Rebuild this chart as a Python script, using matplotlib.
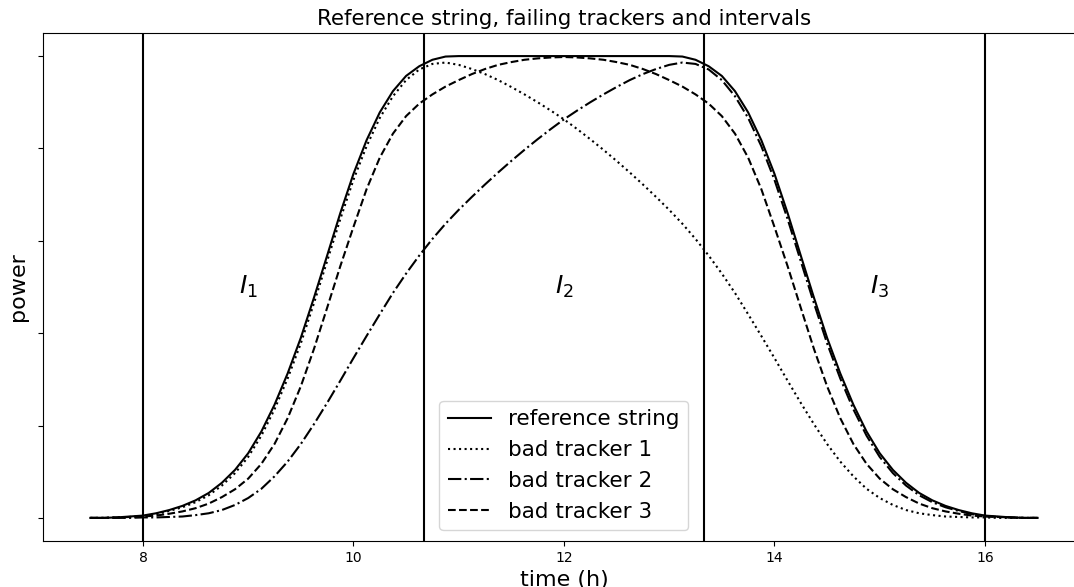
import numpy as np
import matplotlib
matplotlib.use("Agg")
import matplotlib.pyplot as plt

# time grid (h), every eighth of an hour
hours = np.linspace(7.5, 16.5, 73)

# power of the reference string
refPower = [0.000, 0.000, 0.001, 0.003, 0.005, 0.010, 0.017, 0.026,
            0.038, 0.054, 0.076, 0.104, 0.140, 0.187, 0.245, 0.313,
            0.390, 0.477, 0.568, 0.660, 0.745, 0.818, 0.878, 0.924,
            0.957, 0.978, 0.992, 0.999, 1.000, 1.000, 1.000, 1.000,
            1.000, 1.000, 1.000, 1.000, 1.000,
            1.000, 1.000, 1.000, 1.000, 1.000, 1.000, 1.000, 1.000,
            0.999, 0.992, 0.978, 0.957, 0.924, 0.878, 0.818, 0.745,
            0.660, 0.568, 0.477, 0.390, 0.313, 0.245, 0.187, 0.140,
            0.104, 0.076, 0.054, 0.038, 0.026, 0.017, 0.010, 0.005,
            0.003, 0.001, 0.000, 0.000]

# tracker 1 peaks early
bad1 = [0.000, 0.000, 0.001, 0.002, 0.004, 0.008, 0.015, 0.023,
        0.034, 0.049, 0.070, 0.097, 0.132, 0.178, 0.235, 0.302,
        0.378, 0.465, 0.556, 0.647, 0.732, 0.805, 0.866, 0.913,
        0.948, 0.971, 0.983, 0.986, 0.981, 0.972, 0.961, 0.948,
        0.933, 0.917, 0.900, 0.882, 0.863, 0.842, 0.820, 0.797,
        0.773, 0.748, 0.722, 0.695, 0.667, 0.637, 0.604, 0.568,
        0.529, 0.487, 0.441, 0.394, 0.346, 0.297, 0.249, 0.203,
        0.160, 0.122, 0.090, 0.063, 0.043, 0.028, 0.017, 0.010,
        0.006, 0.003, 0.002, 0.001, 0.001, 0.000, 0.000, 0.000,
        0.000]

# tracker 2 peaks late
bad2 = [0.000, 0.000, 0.000, 0.000, 0.001, 0.001, 0.002, 0.003,
        0.006, 0.010, 0.017, 0.028, 0.043, 0.063, 0.090, 0.122,
        0.160, 0.203, 0.249, 0.297, 0.346, 0.394, 0.441, 0.487,
        0.529, 0.568, 0.604, 0.637, 0.667, 0.695, 0.722, 0.748,
        0.773, 0.797, 0.820, 0.842, 0.863, 0.882, 0.900, 0.917,
        0.933, 0.948, 0.961, 0.972, 0.981, 0.986, 0.983, 0.971,
        0.948, 0.913, 0.866, 0.805, 0.732, 0.647, 0.556, 0.465,
        0.378, 0.302, 0.235, 0.178, 0.132, 0.097, 0.070, 0.049,
        0.034, 0.023, 0.015, 0.008, 0.004, 0.002, 0.001, 0.000,
        0.000]

# tracker 3 is too narrow
bad3 = [0.000, 0.000, 0.001, 0.002, 0.003, 0.005, 0.009, 0.014,
        0.021, 0.031, 0.045, 0.062, 0.085, 0.117, 0.160, 0.216,
        0.285, 0.366, 0.455, 0.545, 0.630, 0.712, 0.780, 0.832,
        0.870, 0.897, 0.917, 0.934, 0.948, 0.961, 0.972, 0.981,
        0.987, 0.992, 0.995, 0.997, 0.998,
        0.997, 0.995, 0.992, 0.987, 0.981, 0.972, 0.961, 0.948,
        0.934, 0.917, 0.897, 0.870, 0.832, 0.780, 0.712, 0.630,
        0.545, 0.455, 0.366, 0.285, 0.216, 0.160, 0.117, 0.085,
        0.062, 0.045, 0.031, 0.021, 0.014, 0.009, 0.005, 0.003,
        0.002, 0.001, 0.000, 0.000]

# interval borders and the interval names
bounds = [8, 32 / 3, 40 / 3, 16]
intervalNames = ["$I_1$", "$I_2$", "$I_3$"]
intervalMid = [9, 12, 15]

fig = plt.figure(figsize=(10.74, 5.87), dpi=100)
ax = fig.add_axes([0.040, 0.0784, 0.9702, 0.8654])

ax.plot(hours, refPower, color="k", linestyle="-", label="reference string")
ax.plot(hours, bad1, color="k", linestyle=":", label="bad tracker 1")
ax.plot(hours, bad2, color="k", linestyle="-.", label="bad tracker 2")
ax.plot(hours, bad3, color="k", linestyle="--", label="bad tracker 3")

for b in bounds:
    ax.axvline(b, color="k", linewidth=1.5)

for name, mid in zip(intervalNames, intervalMid):
    ax.text(mid, 0.5, name, fontsize=18, ha="center", va="center")

ax.set_xlim(7.05, 16.95)
ax.set_ylim(-0.05, 1.05)
ax.set_xticks([8, 10, 12, 14, 16])
ax.set_yticks([0, 0.2, 0.4, 0.6, 0.8, 1.0])
ax.set_yticklabels([])

ax.set_title("Reference string, failing trackers and intervals", fontsize=15.4)
ax.set_xlabel("time (h)", fontsize=16)
ax.set_ylabel("power", fontsize=16)
ax.legend(loc="lower center", fontsize=15.5)

fig.savefig("out.png", dpi=100)
